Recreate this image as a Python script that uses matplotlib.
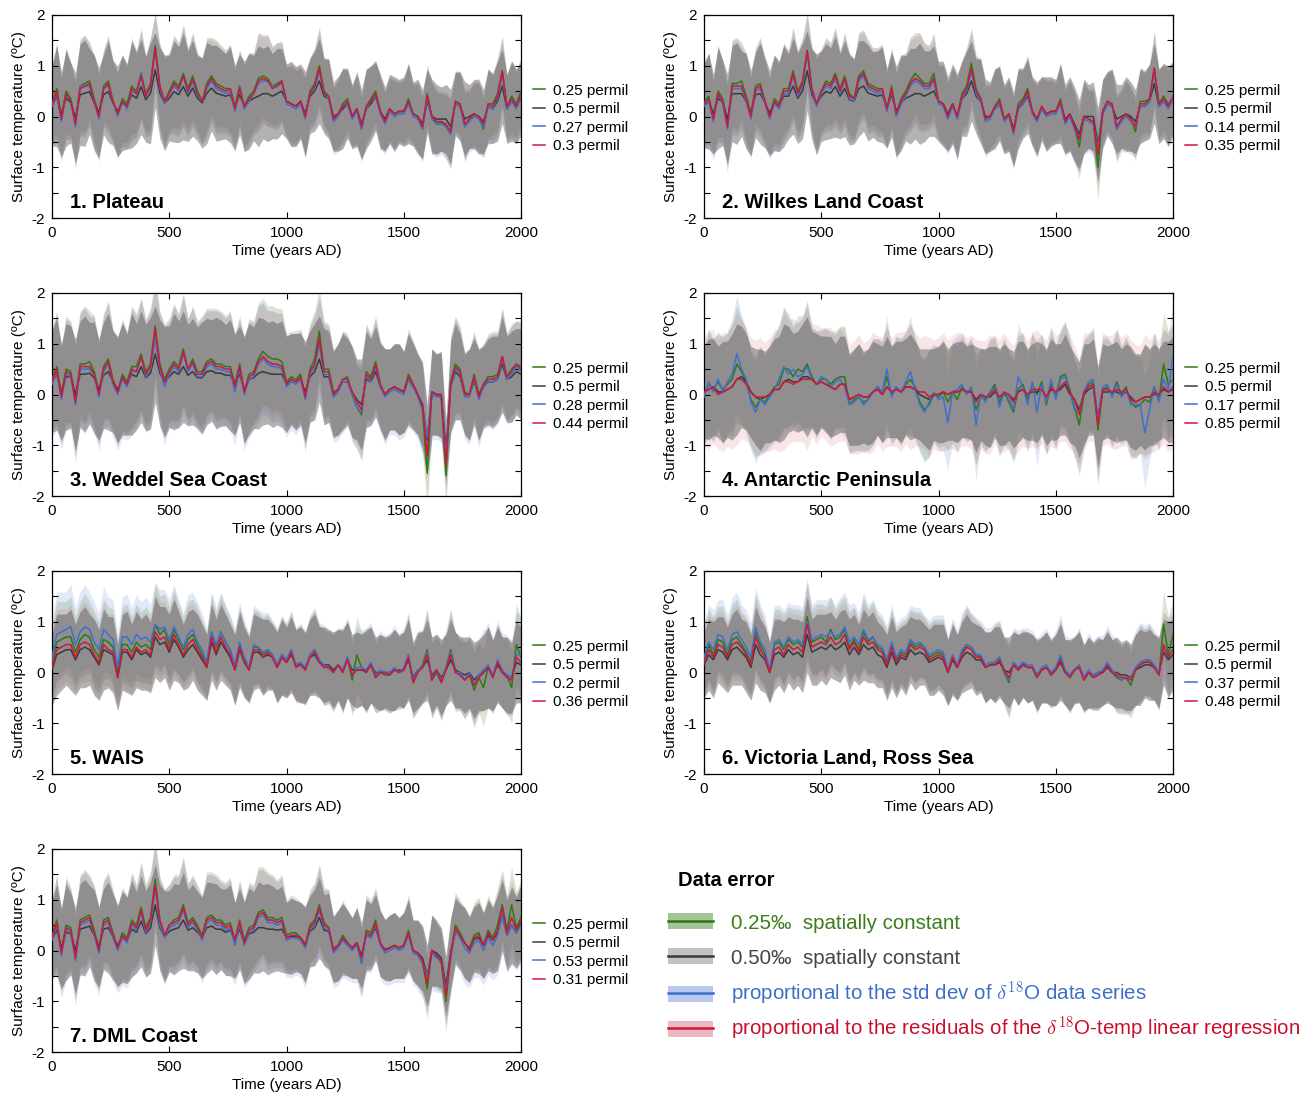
import matplotlib
matplotlib.use("Agg")
import matplotlib.pyplot as plt
import numpy as np
from matplotlib.patches import Patch
from matplotlib.lines import Line2D
from matplotlib.ticker import FixedLocator, FuncFormatter

plt.rcParams['font.family'] = ['Liberation Sans', 'DejaVu Sans']
plt.rcParams['mathtext.fontset'] = 'cm'
plt.rcParams['axes.unicode_minus'] = False

# ---------------- data ----------------
YEARS = list(range(0, 2001, 20))

REGIONS = ['1. Plateau', '2. Wilkes Land Coast', '3. Weddel Sea Coast',
           '4. Antarctic Peninsula', '5. WAIS', '6. Victoria Land, Ross Sea',
           '7. DML Coast']

PERMIL = [
    ['0.25 permil', '0.5 permil', '0.27 permil', '0.3 permil'],
    ['0.25 permil', '0.5 permil', '0.14 permil', '0.35 permil'],
    ['0.25 permil', '0.5 permil', '0.28 permil', '0.44 permil'],
    ['0.25 permil', '0.5 permil', '0.17 permil', '0.85 permil'],
    ['0.25 permil', '0.5 permil', '0.2 permil', '0.36 permil'],
    ['0.25 permil', '0.5 permil', '0.37 permil', '0.48 permil'],
    ['0.25 permil', '0.5 permil', '0.53 permil', '0.31 permil'],
]

# relative band widths (green, black, blue, red) per region
BAND_SCALE = [
    [0.95, 1.05, 1.0, 1.0],
    [0.95, 1.05, 1.0, 1.0],
    [1.0, 1.0, 1.05, 1.0],
    [1.0, 0.95, 1.0, 1.12],
    [1.0, 1.0, 1.05, 1.0],
    [1.0, 1.0, 1.05, 1.0],
    [1.0, 1.0, 1.05, 1.0],
]

P1_GREEN = [0.25,0.55,0.0,0.5,0.35,-0.1,0.6,0.65,0.7,0.35,
 0.05,0.6,0.7,0.3,0.05,0.35,0.25,0.6,0.5,0.85,
 0.45,0.65,1.4,0.6,0.3,0.5,0.7,0.6,0.85,0.55,
 0.8,0.5,0.3,0.65,0.8,0.65,0.6,0.55,0.55,0.2,
 0.6,0.2,0.4,0.5,0.75,0.8,0.75,0.6,0.65,0.7,
 0.3,0.25,0.2,0.3,0.0,0.5,0.65,1.0,0.5,0.4,
 -0.05,0.05,0.25,0.35,0.0,0.15,-0.25,0.2,0.35,0.5,
 0.1,-0.1,0.15,0.05,0.1,0.1,0.35,0.05,0.0,-0.25,
 0.45,0.0,-0.15,-0.1,-0.2,-0.35,0.3,0.25,-0.2,-0.05,
 0.05,0.0,-0.25,0.25,0.25,0.45,0.9,0.2,0.4,0.25,
 0.5]
P1_BLACK = [0.21,0.4,0.04,0.36,0.27,-0.03,0.43,0.46,0.49,0.27,
 0.07,0.43,0.49,0.27,0.1,0.27,0.2,0.43,0.36,0.59,
 0.33,0.46,0.92,0.46,0.27,0.36,0.49,0.43,0.59,0.4,
 0.56,0.36,0.27,0.46,0.56,0.46,0.43,0.4,0.43,0.17,
 0.43,0.2,0.3,0.36,0.4,0.45,0.45,0.4,0.45,0.5,
 0.3,0.25,0.2,0.3,0.05,0.4,0.5,0.7,0.4,0.35,
 0.0,0.05,0.15,0.25,0.0,0.15,-0.15,0.15,0.25,0.4,
 0.1,-0.05,0.15,0.05,0.1,0.1,0.25,0.05,0.0,-0.15,
 0.3,0.0,-0.05,-0.05,-0.05,-0.2,0.25,0.2,-0.05,0.0,
 0.05,0.0,-0.1,0.2,0.15,0.3,0.6,0.15,0.3,0.2,
 0.35]
P1_BLUE = [0.2,0.45,-0.1,0.45,0.3,-0.2,0.6,0.6,0.6,0.3,
 -0.05,0.55,0.6,0.3,0.0,0.3,0.15,0.5,0.45,0.85,
 0.4,0.6,1.3,0.55,0.25,0.45,0.6,0.5,0.8,0.45,
 0.7,0.4,0.3,0.55,0.7,0.55,0.5,0.45,0.5,0.1,
 0.55,0.15,0.3,0.45,0.65,0.7,0.7,0.6,0.6,0.65,
 0.25,0.2,0.15,0.25,-0.05,0.45,0.55,0.9,0.45,0.35,
 -0.1,0.0,0.2,0.25,-0.05,0.1,-0.25,0.15,0.3,0.4,
 0.05,-0.15,0.1,0.0,0.05,0.05,0.25,0.0,-0.05,-0.25,
 0.35,-0.05,-0.15,-0.15,-0.2,-0.35,0.25,0.2,-0.2,-0.1,
 0.0,-0.05,-0.2,0.2,0.15,0.35,0.85,0.15,0.3,0.15,
 0.4]
P1_RED = [0.22,0.5,-0.05,0.45,0.3,-0.15,0.55,0.6,0.65,0.3,
 0.0,0.55,0.65,0.3,0.05,0.3,0.2,0.55,0.45,0.8,
 0.4,0.6,1.35,0.6,0.3,0.45,0.65,0.55,0.8,0.5,
 0.75,0.45,0.3,0.6,0.75,0.6,0.55,0.5,0.55,0.15,
 0.55,0.2,0.35,0.45,0.7,0.75,0.7,0.55,0.6,0.7,
 0.3,0.25,0.2,0.3,0.0,0.45,0.6,0.95,0.45,0.4,
 -0.05,0.05,0.2,0.3,0.0,0.15,-0.2,0.2,0.3,0.45,
 0.1,-0.1,0.15,0.05,0.1,0.1,0.3,0.05,0.0,-0.2,
 0.4,0.0,-0.1,-0.1,-0.15,-0.3,0.3,0.25,-0.15,-0.05,
 0.05,0.0,-0.15,0.25,0.2,0.4,0.9,0.2,0.35,0.2,
 0.45]
P1_SPREAD = [0.75,0.95,0.8,0.9,0.75,0.85,0.95,1.0,0.8,0.9,
 0.85,0.75,0.95,0.8,0.85,0.9,0.8,1.0,0.85,0.9,
 0.8,0.95,0.7,0.85,0.9,0.8,0.95,0.9,1.0,0.85,
 0.9,0.8,0.85,0.95,0.8,0.9,0.85,0.8,0.9,0.8,
 0.75,0.85,0.9,0.8,0.95,0.85,0.9,0.8,0.85,0.8,
 0.7,0.8,0.75,0.7,0.8,0.7,0.75,0.8,0.7,0.75,
 0.65,0.7,0.75,0.65,0.6,0.7,0.65,0.75,0.7,0.65,
 0.7,0.6,0.65,0.7,0.6,0.65,0.75,0.6,0.7,0.65,
 0.6,0.7,0.65,0.6,0.65,0.7,0.6,0.65,0.7,0.6,
 0.65,0.7,0.6,0.7,0.65,0.75,0.7,0.65,0.75,0.7,
 0.7]

P2_GREEN = [0.28,0.4,0.0,0.5,0.35,-0.15,0.65,0.65,0.7,0.4,
 0.05,0.6,0.65,0.3,0.0,0.35,0.25,0.55,0.55,0.9,
 0.5,0.7,1.3,0.55,0.25,0.5,0.7,0.65,0.85,0.55,
 0.8,0.45,0.35,0.8,0.9,0.65,0.6,0.55,0.55,0.15,
 0.6,0.05,0.35,0.5,0.7,0.85,0.75,0.65,0.65,0.85,
 0.3,0.25,0.0,0.25,0.0,0.45,0.6,1.05,0.55,0.35,
 -0.05,0.0,0.2,0.35,-0.05,0.05,-0.3,0.25,0.35,0.55,
 0.1,-0.05,0.2,0.05,0.1,0.1,0.35,-0.1,0.05,-0.2,
 -0.6,0.0,-0.05,-0.1,-1.0,0.1,0.3,0.25,-0.25,-0.05,
 0.05,-0.05,-0.3,0.3,0.3,0.35,0.95,0.25,0.4,0.25,
 0.35]
P2_BLACK = [0.22,0.3,0.05,0.36,0.27,-0.05,0.45,0.45,0.45,0.3,
 0.07,0.43,0.45,0.27,0.07,0.27,0.2,0.4,0.4,0.6,
 0.36,0.5,0.9,0.43,0.24,0.4,0.49,0.46,0.59,0.4,
 0.55,0.33,0.3,0.55,0.6,0.46,0.43,0.4,0.43,0.17,
 0.43,0.1,0.27,0.36,0.4,0.45,0.45,0.4,0.45,0.5,
 0.3,0.25,0.05,0.25,0.0,0.35,0.45,0.7,0.4,0.3,
 0.0,0.0,0.15,0.25,-0.05,0.05,-0.25,0.15,0.25,0.4,
 0.1,-0.05,0.15,0.05,0.1,0.1,0.25,-0.05,0.05,-0.15,
 -0.35,0.0,0.0,0.0,-0.55,0.05,0.25,0.2,-0.05,0.0,
 0.05,0.0,-0.1,0.2,0.2,0.3,0.65,0.2,0.3,0.2,
 0.35]
P2_BLUE = [0.2,0.3,-0.1,0.45,0.25,-0.25,0.55,0.55,0.55,0.3,
 -0.05,0.5,0.55,0.25,-0.05,0.25,0.15,0.45,0.45,0.8,
 0.4,0.6,1.25,0.5,0.2,0.45,0.6,0.55,0.75,0.45,
 0.7,0.35,0.3,0.7,0.8,0.55,0.5,0.45,0.5,0.1,
 0.5,0.0,0.25,0.4,0.6,0.7,0.65,0.55,0.55,0.7,
 0.25,0.2,-0.05,0.2,-0.05,0.35,0.5,0.9,0.45,0.3,
 -0.1,-0.05,0.15,0.25,-0.1,0.0,-0.35,0.15,0.25,0.45,
 0.05,-0.1,0.15,0.0,0.05,0.05,0.25,-0.15,0.0,-0.25,
 -0.45,-0.05,-0.1,-0.15,-0.6,0.05,0.25,0.2,-0.25,-0.1,
 0.0,-0.1,-0.2,0.2,0.2,0.3,0.9,0.2,0.3,0.15,
 0.35]
P2_RED = [0.25,0.35,-0.05,0.45,0.3,-0.2,0.6,0.6,0.6,0.35,
 0.0,0.55,0.6,0.3,0.0,0.3,0.2,0.5,0.5,0.85,
 0.45,0.65,1.3,0.55,0.25,0.5,0.65,0.6,0.8,0.5,
 0.75,0.4,0.35,0.75,0.85,0.6,0.55,0.5,0.55,0.15,
 0.55,0.05,0.3,0.45,0.65,0.75,0.7,0.6,0.6,0.75,
 0.3,0.25,0.0,0.25,0.0,0.4,0.55,0.95,0.5,0.35,
 -0.05,0.0,0.2,0.3,-0.05,0.05,-0.3,0.2,0.3,0.5,
 0.1,-0.05,0.2,0.05,0.1,0.1,0.3,-0.1,0.05,-0.2,
 -0.45,0.0,-0.05,-0.1,-0.75,0.1,0.3,0.25,-0.2,-0.05,
 0.05,-0.05,-0.2,0.25,0.25,0.35,0.95,0.25,0.35,0.2,
 0.4]
P2_SPREAD = [0.8,0.9,0.75,0.95,0.8,0.85,0.9,0.95,0.8,0.9,
 0.8,0.8,0.95,0.85,0.8,0.9,0.85,0.95,0.8,0.9,
 0.85,0.9,0.75,0.85,0.95,0.85,0.9,0.85,0.95,0.8,
 0.9,0.85,0.8,0.9,0.85,0.9,0.8,0.85,0.9,0.75,
 0.8,0.85,0.9,0.8,0.9,0.85,0.95,0.85,0.8,0.85,
 0.75,0.8,0.7,0.75,0.8,0.7,0.8,0.75,0.7,0.8,
 0.7,0.65,0.75,0.7,0.65,0.7,0.7,0.75,0.65,0.7,
 0.65,0.7,0.6,0.7,0.65,0.6,0.75,0.65,0.7,0.7,
 0.65,0.7,0.6,0.65,0.7,0.65,0.6,0.7,0.65,0.6,
 0.7,0.65,0.6,0.7,0.65,0.7,0.75,0.7,0.7,0.75,
 0.7]

P3_GREEN = [0.3,0.55,0.0,0.5,0.45,-0.1,0.6,0.6,0.65,0.45,
 0.05,0.55,0.7,0.3,0.05,0.4,0.25,0.55,0.55,0.8,
 0.45,0.6,1.35,0.6,0.3,0.5,0.65,0.55,0.9,0.5,
 0.7,0.45,0.45,0.65,0.7,0.6,0.6,0.55,0.55,0.2,
 0.6,0.05,0.4,0.45,0.7,0.85,0.75,0.7,0.7,0.65,
 0.25,0.35,0.3,0.4,-0.05,0.5,0.7,1.25,0.5,0.5,
 0.05,0.1,0.3,0.35,0.0,-0.25,-0.4,0.45,0.35,0.65,
 0.2,0.0,0.1,0.15,0.1,0.05,0.4,0.2,0.0,-0.3,
 -1.55,0.05,0.0,-0.05,-1.6,0.25,0.6,0.5,0.05,0.0,
 0.4,0.0,0.2,0.35,0.35,0.4,0.75,0.35,0.5,0.6,
 0.55]
P3_BLACK = [0.25,0.4,0.05,0.35,0.35,0.0,0.4,0.4,0.42,0.33,
 0.1,0.38,0.45,0.25,0.1,0.3,0.2,0.4,0.35,0.55,
 0.33,0.42,0.8,0.42,0.25,0.35,0.45,0.4,0.55,0.38,
 0.45,0.33,0.33,0.45,0.47,0.42,0.42,0.38,0.38,0.2,
 0.4,0.1,0.3,0.33,0.42,0.45,0.42,0.4,0.4,0.4,
 0.2,0.3,0.25,0.3,0.05,0.35,0.45,0.7,0.35,0.35,
 0.0,0.1,0.25,0.25,0.05,-0.1,-0.2,0.3,0.25,0.45,
 0.15,0.0,0.1,0.15,0.1,0.05,0.3,0.15,0.0,-0.2,
 -0.9,0.05,0.0,0.0,-1.1,0.15,0.45,0.35,0.0,0.0,
 0.25,0.0,0.15,0.25,0.25,0.3,0.6,0.3,0.35,0.45,
 0.4]
P3_BLUE = [0.2,0.45,-0.1,0.4,0.35,-0.2,0.5,0.5,0.5,0.4,
 -0.05,0.45,0.6,0.2,0.0,0.3,0.15,0.45,0.45,0.75,
 0.35,0.5,1.1,0.5,0.15,0.4,0.55,0.45,0.8,0.45,
 0.6,0.35,0.35,0.55,0.6,0.5,0.5,0.45,0.45,0.05,
 0.5,0.0,0.3,0.35,0.6,0.7,0.6,0.55,0.55,0.5,
 0.15,0.25,0.2,0.3,-0.1,0.4,0.55,1.0,0.4,0.4,
 -0.05,0.05,0.25,0.25,0.0,-0.25,-0.35,0.35,0.25,0.55,
 0.15,-0.05,0.05,0.1,0.05,0.0,0.3,0.15,-0.05,-0.3,
 -0.85,0.0,-0.05,-0.05,-1.2,0.15,0.5,0.4,-0.05,-0.05,
 0.3,-0.1,0.15,0.25,0.25,0.3,0.7,0.3,0.4,0.55,
 0.45]
P3_RED = [0.25,0.5,-0.05,0.45,0.4,-0.15,0.55,0.55,0.55,0.4,
 0.0,0.5,0.65,0.25,0.05,0.35,0.2,0.5,0.45,0.75,
 0.4,0.55,1.3,0.55,0.25,0.45,0.6,0.5,0.85,0.5,
 0.65,0.4,0.4,0.6,0.65,0.55,0.55,0.5,0.5,0.15,
 0.55,0.05,0.35,0.4,0.65,0.75,0.65,0.6,0.6,0.55,
 0.2,0.3,0.25,0.35,-0.05,0.45,0.6,1.1,0.45,0.45,
 0.0,0.1,0.3,0.3,0.05,-0.15,-0.3,0.4,0.3,0.6,
 0.2,0.0,0.1,0.15,0.1,0.05,0.35,0.2,0.0,-0.25,
 -1.2,0.05,0.0,0.0,-1.4,0.2,0.55,0.45,0.0,0.0,
 0.35,-0.05,0.2,0.3,0.3,0.35,0.75,0.35,0.45,0.6,
 0.5]
P3_SPREAD = [1.0,1.1,0.95,1.05,1.0,1.1,1.05,1.15,1.0,1.1,
 1.0,1.05,1.15,1.0,1.05,1.1,1.0,1.2,1.05,1.1,
 1.05,1.1,0.95,1.05,1.1,1.0,1.15,1.05,1.1,1.0,
 1.05,1.0,1.1,1.05,1.0,1.1,1.05,1.0,1.1,1.0,
 0.95,1.05,1.1,1.0,1.1,1.05,1.0,1.05,1.0,1.05,
 0.95,0.9,0.95,0.9,1.0,0.9,0.95,0.85,0.95,0.9,
 0.85,0.9,0.95,0.85,0.9,0.8,0.9,0.95,0.85,0.9,
 0.85,0.9,0.8,0.85,0.9,0.8,0.9,0.85,0.8,0.85,
 0.7,0.85,0.8,0.85,0.6,0.9,0.95,0.85,0.8,0.9,
 0.85,0.9,0.8,0.85,0.9,0.85,0.95,0.85,0.9,0.85,
 0.9]

P4_GREEN = [0.0,0.2,0.1,0.25,0.1,0.2,0.3,0.6,0.45,0.25,
 -0.1,-0.25,-0.1,-0.15,0.0,0.15,0.2,0.5,0.5,0.35,
 0.5,0.45,0.6,0.35,0.2,0.3,0.3,0.2,0.3,0.35,
 0.35,-0.2,-0.1,-0.05,-0.15,-0.1,0.05,0.15,0.05,0.35,
 0.0,0.15,0.05,0.2,0.3,0.15,-0.15,-0.3,-0.2,0.0,
 -0.05,0.05,-0.15,0.05,-0.1,0.15,0.05,0.1,-0.3,-0.05,
 -0.1,0.05,0.2,-0.15,0.05,-0.15,-0.35,0.1,0.2,-0.1,
 0.2,0.0,0.25,-0.2,0.2,-0.05,0.35,0.4,0.1,-0.25,
 -0.6,0.0,0.2,0.25,-0.7,0.1,0.15,0.0,0.25,0.0,
 0.15,-0.15,-0.25,-0.2,-0.1,-0.15,0.15,-0.1,0.6,0.2,
 0.3]
P4_BLACK = [0.05,0.1,0.15,0.05,0.05,0.1,0.15,0.3,0.35,0.25,
 0.05,-0.05,-0.1,-0.05,0.0,0.1,0.1,0.25,0.3,0.25,
 0.25,0.35,0.35,0.3,0.2,0.25,0.2,0.15,0.1,0.2,
 0.2,-0.1,-0.05,0.0,-0.05,-0.05,0.05,0.1,0.0,0.15,
 0.05,0.1,0.05,0.15,0.15,0.1,0.0,-0.05,-0.1,0.0,
 0.0,0.05,0.0,0.05,0.05,0.1,0.05,0.05,-0.1,0.0,
 -0.05,-0.05,0.05,-0.05,0.0,0.0,-0.1,0.05,0.1,0.0,
 0.05,0.05,0.1,-0.05,0.1,0.05,0.1,0.2,0.0,-0.1,
 -0.3,0.0,0.1,0.15,-0.45,0.05,0.05,0.05,0.05,0.0,
 0.05,-0.05,-0.15,-0.1,-0.05,-0.05,0.0,0.0,0.1,0.05,
 0.1]
P4_BLUE = [-0.05,0.25,0.05,0.3,0.05,0.25,0.4,0.8,0.5,0.3,
 -0.15,-0.35,-0.1,-0.2,-0.05,0.1,0.3,0.55,0.4,0.5,
 0.35,0.4,0.55,0.3,0.2,0.35,0.3,0.15,0.25,0.3,
 0.15,-0.2,-0.15,-0.05,-0.2,-0.1,0.05,0.15,0.05,0.5,
 -0.05,0.15,0.05,0.25,0.45,0.1,-0.2,-0.35,-0.15,0.05,
 -0.1,-0.05,-0.55,0.05,0.1,0.2,0.0,0.15,-0.6,0.0,
 -0.15,0.05,0.15,-0.25,0.05,-0.05,-0.3,0.35,0.15,-0.2,
 0.25,-0.35,0.2,-0.15,0.3,-0.1,0.3,0.35,0.05,-0.3,
 -0.35,0.05,0.25,0.3,-0.5,0.15,0.2,-0.05,0.2,-0.05,
 0.1,-0.2,-0.2,-0.2,-0.75,-0.3,0.15,-0.15,0.3,0.1,
 0.75]
P4_RED = [0.05,0.1,0.15,0.0,0.05,0.1,0.15,0.3,0.3,0.2,
 0.05,-0.05,-0.05,-0.05,0.0,0.1,0.1,0.25,0.25,0.2,
 0.25,0.3,0.3,0.3,0.2,0.25,0.2,0.15,0.1,0.2,
 0.2,-0.1,-0.05,0.0,-0.05,-0.05,0.05,0.1,0.0,0.15,
 0.05,0.1,0.05,0.15,0.15,0.1,0.05,0.05,-0.05,0.0,
 0.0,0.05,0.0,0.05,0.05,0.1,0.05,0.05,-0.15,0.0,
 -0.05,0.0,0.1,-0.05,0.05,0.0,-0.15,0.05,0.1,0.0,
 0.1,0.1,0.1,-0.05,0.15,0.05,0.15,0.25,0.05,-0.1,
 -0.4,0.05,0.15,0.2,-0.6,0.1,0.1,0.05,0.1,0.05,
 0.1,-0.1,-0.15,-0.1,-0.05,-0.05,0.05,0.0,0.15,0.05,
 0.15]
P4_SPREAD = [0.95,1.05,1.0,0.95,1.05,1.0,1.1,1.15,1.05,1.0,
 0.95,1.0,1.05,0.95,1.0,1.05,1.1,1.2,1.1,1.0,
 1.05,1.1,1.25,1.0,1.05,0.95,1.0,1.05,0.95,1.0,
 1.0,0.95,1.0,1.05,0.95,1.0,1.05,0.95,1.0,1.05,
 0.95,1.0,1.05,1.0,1.1,1.0,0.95,1.0,1.05,0.95,
 1.0,1.05,0.95,1.0,1.05,1.0,0.95,1.0,1.1,0.95,
 1.0,1.05,0.95,1.0,1.05,0.95,1.0,1.05,1.0,0.95,
 1.0,1.05,0.95,1.0,1.05,1.0,0.95,1.05,1.0,0.95,
 1.0,1.05,0.95,1.0,1.05,1.0,0.95,1.0,1.05,0.95,
 1.0,1.05,1.0,0.95,1.1,1.0,1.05,0.95,1.0,1.05,
 1.1]

P5_GREEN = [0.2,0.6,0.65,0.7,0.7,0.4,0.65,0.75,0.7,0.45,
 0.3,0.65,0.6,0.5,0.0,0.55,0.55,0.4,0.6,0.5,
 0.55,0.45,0.95,0.75,0.85,0.55,0.85,0.65,0.45,0.65,
 0.75,0.55,0.35,0.15,0.8,0.5,0.8,0.6,0.45,0.1,
 0.55,0.25,0.1,0.5,0.5,0.35,0.45,0.35,0.15,0.35,
 0.25,0.45,0.15,0.2,0.05,0.35,0.45,0.25,0.1,0.1,
 0.0,0.15,0.0,0.3,-0.15,0.35,0.1,0.0,0.15,-0.1,
 0.0,-0.05,-0.05,0.05,0.0,0.05,0.35,-0.2,0.0,0.15,
 0.45,-0.15,0.0,-0.2,0.1,0.45,0.05,-0.05,-0.15,-0.05,
 -0.35,-0.1,-0.3,0.1,-0.1,0.2,0.0,-0.05,-0.3,0.55,
 0.3]
P5_BLACK = [0.05,0.35,0.4,0.45,0.45,0.25,0.45,0.5,0.45,0.3,
 0.15,0.45,0.4,0.35,-0.1,0.4,0.4,0.25,0.45,0.35,
 0.4,0.3,0.7,0.55,0.6,0.4,0.65,0.5,0.3,0.45,
 0.55,0.4,0.25,0.1,0.6,0.35,0.6,0.45,0.3,0.05,
 0.45,0.2,0.05,0.4,0.4,0.3,0.35,0.3,0.1,0.3,
 0.2,0.35,0.15,0.15,0.1,0.3,0.35,0.2,0.15,0.15,
 0.05,0.15,0.05,0.25,0.05,0.05,0.05,0.05,0.15,0.0,
 0.0,0.0,0.0,0.05,0.05,0.05,0.25,-0.1,0.05,0.1,
 0.25,-0.05,0.05,-0.1,0.05,0.25,0.05,0.0,-0.05,0.0,
 -0.15,-0.05,0.0,0.1,-0.05,0.15,0.0,-0.05,-0.1,0.2,
 0.15]
P5_BLUE = [0.3,0.75,0.8,0.85,0.9,0.55,0.8,0.9,0.85,0.6,
 0.45,0.85,0.75,0.65,0.1,0.7,0.7,0.55,0.75,0.65,
 0.7,0.6,0.95,0.85,0.9,0.65,0.9,0.7,0.5,0.75,
 0.85,0.6,0.45,0.2,0.8,0.55,0.8,0.6,0.45,0.15,
 0.6,0.3,0.1,0.55,0.5,0.4,0.45,0.35,0.15,0.35,
 0.25,0.45,0.15,0.2,0.1,0.35,0.45,0.25,0.15,0.1,
 0.0,0.15,0.05,0.3,-0.05,0.1,0.1,0.05,0.2,-0.05,
 0.05,0.0,0.0,0.1,0.0,0.1,0.35,-0.15,0.05,0.1,
 0.4,-0.1,0.05,-0.15,0.1,0.4,0.0,0.0,-0.15,0.0,
 -0.25,-0.05,0.05,0.15,-0.05,0.25,0.05,-0.05,-0.1,0.35,
 0.35]
P5_RED = [0.1,0.45,0.5,0.55,0.55,0.3,0.55,0.6,0.55,0.35,
 0.2,0.55,0.45,0.4,-0.1,0.45,0.45,0.3,0.5,0.4,
 0.45,0.35,0.8,0.65,0.7,0.45,0.75,0.55,0.35,0.55,
 0.65,0.45,0.3,0.1,0.7,0.4,0.7,0.5,0.35,0.05,
 0.5,0.2,0.05,0.45,0.45,0.3,0.4,0.3,0.1,0.3,
 0.2,0.4,0.1,0.15,0.05,0.3,0.4,0.2,0.1,0.1,
 0.0,0.15,0.0,0.25,-0.05,0.05,0.05,0.0,0.15,-0.1,
 0.0,0.0,-0.05,0.05,0.0,0.05,0.3,-0.2,0.0,0.1,
 0.35,-0.15,0.05,-0.2,0.05,0.35,0.0,-0.05,-0.15,-0.05,
 -0.25,-0.1,0.0,0.1,-0.1,0.2,0.0,-0.1,-0.15,0.3,
 0.2]
P5_SPREAD = [0.7,0.8,0.75,0.7,0.8,0.7,0.75,0.8,0.7,0.75,
 0.7,0.8,0.7,0.75,0.65,0.75,0.8,0.7,0.75,0.7,
 0.75,0.7,0.8,0.75,0.7,0.75,0.8,0.7,0.65,0.75,
 0.7,0.75,0.7,0.65,0.75,0.7,0.75,0.7,0.65,0.7,
 0.75,0.7,0.65,0.75,0.7,0.75,0.7,0.65,0.7,0.75,
 0.7,0.75,0.7,0.75,0.7,0.75,0.8,0.7,0.75,0.7,
 0.75,0.7,0.8,0.75,0.7,0.75,0.7,0.8,0.75,0.7,
 0.75,0.7,0.75,0.8,0.7,0.75,0.8,0.7,0.75,0.7,
 0.8,0.75,0.7,0.75,0.7,0.8,0.75,0.7,0.75,0.7,
 0.75,0.7,0.75,0.8,0.7,0.75,0.7,0.75,0.7,0.8,
 0.75]

P6_GREEN = [0.25,0.55,0.35,0.65,0.6,0.35,0.65,0.7,0.55,0.4,
 0.2,0.8,0.55,0.35,0.0,0.55,0.6,0.45,0.65,0.55,
 0.6,0.5,1.1,0.6,0.65,0.7,0.6,0.85,0.65,0.7,
 0.85,0.5,0.65,0.45,0.8,0.6,0.7,0.5,0.45,0.2,
 0.55,0.25,0.4,0.35,0.6,0.5,0.55,0.5,0.3,0.35,
 0.4,0.35,0.0,0.3,0.1,0.4,0.55,0.5,0.35,0.3,
 0.1,0.15,0.2,0.3,0.0,-0.2,0.2,0.05,0.2,0.1,
 0.1,-0.1,0.05,0.1,-0.05,0.05,0.3,0.0,-0.1,0.05,
 0.15,-0.15,0.0,-0.1,-0.05,0.0,0.15,0.0,-0.1,-0.15,
 -0.1,-0.25,0.05,0.2,0.2,0.25,0.1,-0.05,0.95,0.35,
 0.75]
P6_BLACK = [0.15,0.35,0.25,0.45,0.4,0.25,0.45,0.5,0.4,0.3,
 0.1,0.55,0.35,0.25,0.0,0.35,0.4,0.3,0.45,0.35,
 0.4,0.3,0.75,0.4,0.45,0.5,0.45,0.55,0.45,0.5,
 0.6,0.35,0.5,0.35,0.55,0.45,0.5,0.35,0.3,0.1,
 0.4,0.15,0.3,0.25,0.45,0.35,0.4,0.35,0.2,0.25,
 0.3,0.25,0.0,0.25,0.1,0.3,0.4,0.35,0.25,0.25,
 0.1,0.15,0.15,0.2,0.05,0.0,0.15,0.05,0.15,0.1,
 0.1,-0.05,0.05,0.1,0.0,0.05,0.2,0.0,-0.05,0.05,
 0.1,-0.1,0.0,-0.05,0.0,0.0,0.1,0.0,0.0,-0.05,
 -0.05,-0.1,0.05,0.1,0.15,0.15,0.1,0.0,0.4,0.25,
 0.35]
P6_BLUE = [0.3,0.6,0.45,0.75,0.7,0.45,0.75,0.8,0.65,0.5,
 0.3,0.9,0.6,0.45,0.05,0.6,0.65,0.5,0.7,0.6,
 0.65,0.55,1.0,0.65,0.7,0.75,0.7,0.8,0.7,0.75,
 0.9,0.6,0.7,0.55,0.85,0.65,0.7,0.55,0.5,0.25,
 0.6,0.3,0.45,0.4,0.65,0.55,0.6,0.5,0.35,0.4,
 0.45,0.4,0.05,0.35,0.15,0.45,0.55,0.5,0.35,0.35,
 0.15,0.2,0.2,0.3,0.05,-0.15,0.2,0.1,0.2,0.15,
 0.15,-0.05,0.1,0.15,0.0,0.1,0.35,0.05,-0.05,0.05,
 0.15,-0.1,0.05,-0.05,0.0,0.05,0.2,0.05,-0.05,-0.15,
 -0.1,-0.1,0.1,0.2,0.25,0.25,0.15,0.0,0.5,0.3,
 0.45]
P6_RED = [0.2,0.45,0.3,0.55,0.5,0.3,0.55,0.6,0.5,0.35,
 0.15,0.7,0.45,0.3,0.0,0.45,0.5,0.35,0.55,0.45,
 0.5,0.4,0.95,0.5,0.55,0.6,0.55,0.7,0.55,0.6,
 0.75,0.45,0.6,0.4,0.7,0.55,0.6,0.45,0.4,0.15,
 0.5,0.2,0.35,0.3,0.55,0.45,0.5,0.45,0.25,0.3,
 0.35,0.3,0.0,0.3,0.1,0.35,0.5,0.45,0.3,0.3,
 0.1,0.15,0.15,0.25,0.05,-0.1,0.15,0.05,0.15,0.1,
 0.1,-0.1,0.05,0.1,-0.05,0.05,0.25,0.0,-0.1,0.05,
 0.1,-0.15,0.0,-0.1,-0.05,0.0,0.15,0.0,-0.05,-0.1,
 -0.1,-0.15,0.05,0.15,0.2,0.2,0.1,-0.05,0.55,0.3,
 0.45]
P6_SPREAD = [0.65,0.7,0.75,0.65,0.7,0.65,0.7,0.75,0.65,0.7,
 0.65,0.75,0.7,0.65,0.6,0.7,0.65,0.7,0.65,0.7,
 0.65,0.7,0.75,0.65,0.7,0.65,0.7,0.65,0.6,0.7,
 0.65,0.7,0.65,0.6,0.7,0.65,0.7,0.65,0.6,0.65,
 0.7,0.65,0.6,0.7,0.65,0.7,0.65,0.6,0.65,0.7,
 0.65,0.7,0.65,0.7,0.65,0.7,0.75,0.65,0.7,0.65,
 0.7,0.65,0.75,0.7,0.65,0.7,0.65,0.7,0.65,0.7,
 0.65,0.7,0.65,0.7,0.65,0.7,0.75,0.65,0.7,0.65,
 0.7,0.65,0.7,0.65,0.7,0.65,0.7,0.65,0.7,0.65,
 0.7,0.65,0.7,0.75,0.65,0.7,0.65,0.7,0.65,0.75,
 0.7]

P7_GREEN = [0.28,0.6,0.0,0.5,0.45,-0.1,0.6,0.65,0.7,0.4,
 0.05,0.6,0.65,0.35,0.05,0.35,0.25,0.6,0.5,0.85,
 0.45,0.65,1.4,0.6,0.3,0.5,0.6,0.65,0.9,0.55,
 0.65,0.5,0.3,0.65,0.7,0.6,0.6,0.5,0.55,0.2,
 0.6,0.2,0.45,0.5,0.75,0.8,0.65,0.65,0.6,0.65,
 0.3,0.35,0.35,0.25,0.1,0.5,0.6,0.9,0.55,0.45,
 0.0,0.1,0.3,0.15,0.05,0.15,-0.25,0.4,0.35,0.6,
 0.15,0.0,0.05,0.1,0.05,0.1,0.4,0.0,-0.05,-0.25,
 -0.75,0.0,-0.1,-0.25,-1.0,-0.1,0.5,0.35,0.15,0.05,
 0.3,0.35,0.1,0.4,0.25,0.5,0.9,0.4,0.9,0.45,
 0.65]
P7_BLACK = [0.22,0.4,0.05,0.36,0.33,0.0,0.42,0.45,0.48,0.3,
 0.07,0.42,0.45,0.27,0.1,0.27,0.2,0.42,0.36,0.58,
 0.33,0.45,0.9,0.45,0.27,0.38,0.42,0.45,0.6,0.4,
 0.45,0.36,0.25,0.45,0.48,0.42,0.42,0.36,0.4,0.2,
 0.42,0.15,0.33,0.36,0.45,0.45,0.42,0.42,0.4,0.42,
 0.25,0.28,0.28,0.25,0.12,0.38,0.45,0.65,0.4,0.38,
 0.03,0.1,0.22,0.15,0.05,0.15,-0.1,0.3,0.27,0.45,
 0.13,0.02,0.05,0.1,0.05,0.1,0.3,0.0,-0.05,-0.15,
 -0.5,0.0,-0.05,-0.15,-0.7,-0.05,0.38,0.27,0.15,0.02,
 0.22,0.25,0.1,0.3,0.2,0.35,0.7,0.3,0.5,0.35,
 0.55]
P7_BLUE = [0.2,0.5,-0.1,0.4,0.35,-0.2,0.5,0.55,0.6,0.3,
 -0.05,0.5,0.55,0.25,0.0,0.25,0.15,0.5,0.4,0.75,
 0.35,0.55,1.25,0.5,0.25,0.45,0.5,0.55,0.8,0.45,
 0.55,0.4,0.2,0.55,0.6,0.5,0.5,0.4,0.45,0.1,
 0.5,0.1,0.35,0.4,0.65,0.7,0.55,0.55,0.5,0.55,
 0.2,0.25,0.25,0.2,0.05,0.4,0.5,0.8,0.45,0.4,
 -0.05,0.05,0.2,0.1,0.0,0.1,-0.25,0.3,0.25,0.5,
 0.1,-0.05,0.0,0.05,0.0,0.05,0.3,-0.05,-0.1,-0.25,
 -0.5,-0.05,-0.15,-0.2,-0.8,-0.15,0.4,0.25,0.05,-0.05,
 0.15,0.2,0.0,0.25,0.1,0.3,0.7,0.3,0.5,0.35,
 0.5]
P7_RED = [0.25,0.55,-0.05,0.45,0.4,-0.15,0.55,0.6,0.65,0.35,
 0.0,0.55,0.6,0.3,0.05,0.3,0.2,0.55,0.45,0.8,
 0.4,0.6,1.3,0.6,0.3,0.5,0.55,0.6,0.85,0.5,
 0.6,0.45,0.25,0.6,0.65,0.55,0.55,0.45,0.5,0.2,
 0.55,0.15,0.4,0.45,0.7,0.75,0.6,0.6,0.55,0.6,
 0.25,0.3,0.3,0.25,0.1,0.45,0.55,0.85,0.5,0.45,
 0.0,0.1,0.25,0.15,0.05,0.15,-0.15,0.35,0.3,0.55,
 0.15,0.0,0.05,0.1,0.05,0.1,0.35,0.0,-0.05,-0.2,
 -0.65,0.0,-0.1,-0.2,-0.9,-0.1,0.45,0.3,0.15,0.0,
 0.25,0.3,0.1,0.35,0.2,0.4,0.85,0.35,0.65,0.4,
 0.6]
P7_SPREAD = [0.75,0.9,0.8,0.95,0.8,0.85,0.9,0.95,0.8,0.9,
 0.8,0.8,0.9,0.85,0.8,0.9,0.85,0.95,0.8,0.9,
 0.85,0.9,0.8,0.85,0.9,0.8,0.9,0.85,0.95,0.8,
 0.85,0.8,0.8,0.9,0.85,0.9,0.8,0.85,0.9,0.75,
 0.8,0.8,0.9,0.8,0.9,0.85,0.9,0.85,0.8,0.85,
 0.7,0.75,0.7,0.7,0.75,0.7,0.75,0.8,0.7,0.75,
 0.65,0.7,0.7,0.65,0.6,0.7,0.65,0.7,0.65,0.65,
 0.65,0.6,0.65,0.65,0.6,0.65,0.7,0.6,0.65,0.65,
 0.6,0.7,0.65,0.6,0.6,0.7,0.65,0.65,0.7,0.65,
 0.65,0.7,0.65,0.7,0.65,0.75,0.7,0.7,0.75,0.7,
 0.75]

SERIES = [
    (P1_GREEN, P1_BLACK, P1_BLUE, P1_RED, P1_SPREAD),
    (P2_GREEN, P2_BLACK, P2_BLUE, P2_RED, P2_SPREAD),
    (P3_GREEN, P3_BLACK, P3_BLUE, P3_RED, P3_SPREAD),
    (P4_GREEN, P4_BLACK, P4_BLUE, P4_RED, P4_SPREAD),
    (P5_GREEN, P5_BLACK, P5_BLUE, P5_RED, P5_SPREAD),
    (P6_GREEN, P6_BLACK, P6_BLUE, P6_RED, P6_SPREAD),
    (P7_GREEN, P7_BLACK, P7_BLUE, P7_RED, P7_SPREAD),
]

LEGEND_LABELS = ['0.25\u2030  spatially constant',
                 '0.50\u2030  spatially constant',
                 r'proportional to the std dev of $\delta^{18}$O data series',
                 r'proportional to the residuals of the $\delta^{18}$O-temp linear regression']

# ---------------- styles ----------------
LINE_COLORS = ['#2e7a10', '#3a3a3a', '#3f6fd0', '#d0173d']
BAND_COLORS = ['#4f8f3a', '#484848', '#6f8fd8', '#d8707f']
BAND_ALPHA = [0.22, 0.42, 0.2, 0.18]
LEG_PATCH_COLORS = ['#a3c496', '#c2c2c2', '#b9c8ec', '#eab9c0']
TEXT_COLORS = ['#3a7d1a', '#444444', '#3d6fc8', '#c8102e']
DRAW_ORDER_BANDS = [0, 2, 3, 1]

W, H = 1313, 1094
fig = plt.figure(figsize=(W / 100, H / 100), dpi=100)

lefts = [52, 704]
tops = [15, 293, 571, 849]
aw, ah = 469, 203

x = np.array(YEARS)
for i, (g, b, bl, r, sp) in enumerate(SERIES):
    row, col = divmod(i, 2)
    ax = fig.add_axes([lefts[col] / W, 1 - (tops[row] + ah) / H, aw / W, ah / H])
    lines = [np.array(g), np.array(b), np.array(bl), np.array(r)]
    spread = np.array(sp)
    for j in DRAW_ORDER_BANDS:
        hw = spread * BAND_SCALE[i][j]
        ax.fill_between(x, lines[j] - hw, lines[j] + hw, color=BAND_COLORS[j],
                        alpha=BAND_ALPHA[j], lw=0)
    handles = []
    for j in range(4):
        ln, = ax.plot(x, lines[j], color=LINE_COLORS[j], lw=1.1, zorder=3 + j)
        handles.append(ln)
    ax.set_xlim(0, 2000)
    ax.set_ylim(-2, 2)
    ax.xaxis.set_major_locator(FixedLocator([0, 500, 1000, 1500, 2000]))
    ax.yaxis.set_major_locator(FixedLocator(np.arange(-2, 2.01, 0.5)))
    ax.yaxis.set_major_formatter(FuncFormatter(
        lambda v, _: f'{int(round(v))}' if abs(v - round(v)) < 1e-6 else ''))
    ax.tick_params(direction='in', length=4, width=0.8, top=True, right=True,
                   labelsize=11)
    ax.tick_params(axis='x', pad=5.5)
    ax.tick_params(axis='y', pad=5)
    for s in ax.spines.values():
        s.set_linewidth(0.9)
    ax.set_xlabel('Time (years AD)', fontsize=11, labelpad=3)
    ax.set_ylabel('Surface temperature (\u00baC)', fontsize=11, labelpad=4)
    ax.text(0.038, 0.074, REGIONS[i], transform=ax.transAxes, fontsize=14.5,
            fontweight='bold', va='center', ha='left')
    ax.legend(handles, PERMIL[i], loc='center left', bbox_to_anchor=(1.026, 0.49),
              frameon=False, fontsize=11, handlelength=0.8, handletextpad=0.5,
              labelspacing=0.3, borderpad=0, borderaxespad=0)

# overall legend: one row per error model, evenly spaced
fig.text(678 / W, 1 - 881 / H, 'Data error', fontsize=14.5, fontweight='bold',
         ha='left', va='center')
row_centres = [923, 958, 994, 1029]
for j in range(4):
    h = (Patch(facecolor=LEG_PATCH_COLORS[j], edgecolor='none'),
         Line2D([], [], color=LINE_COLORS[j], lw=1.8))
    leg = fig.legend([h], [LEGEND_LABELS[j]], loc='center left',
                     bbox_to_anchor=(668 / W, 1 - row_centres[j] / H), frameon=False,
                     fontsize=14.8, handlelength=2.2, handleheight=0.8,
                     handletextpad=0.85, borderpad=0, borderaxespad=0)
    leg.get_texts()[0].set_color(TEXT_COLORS[j])

fig.savefig('out.png', dpi=100)
